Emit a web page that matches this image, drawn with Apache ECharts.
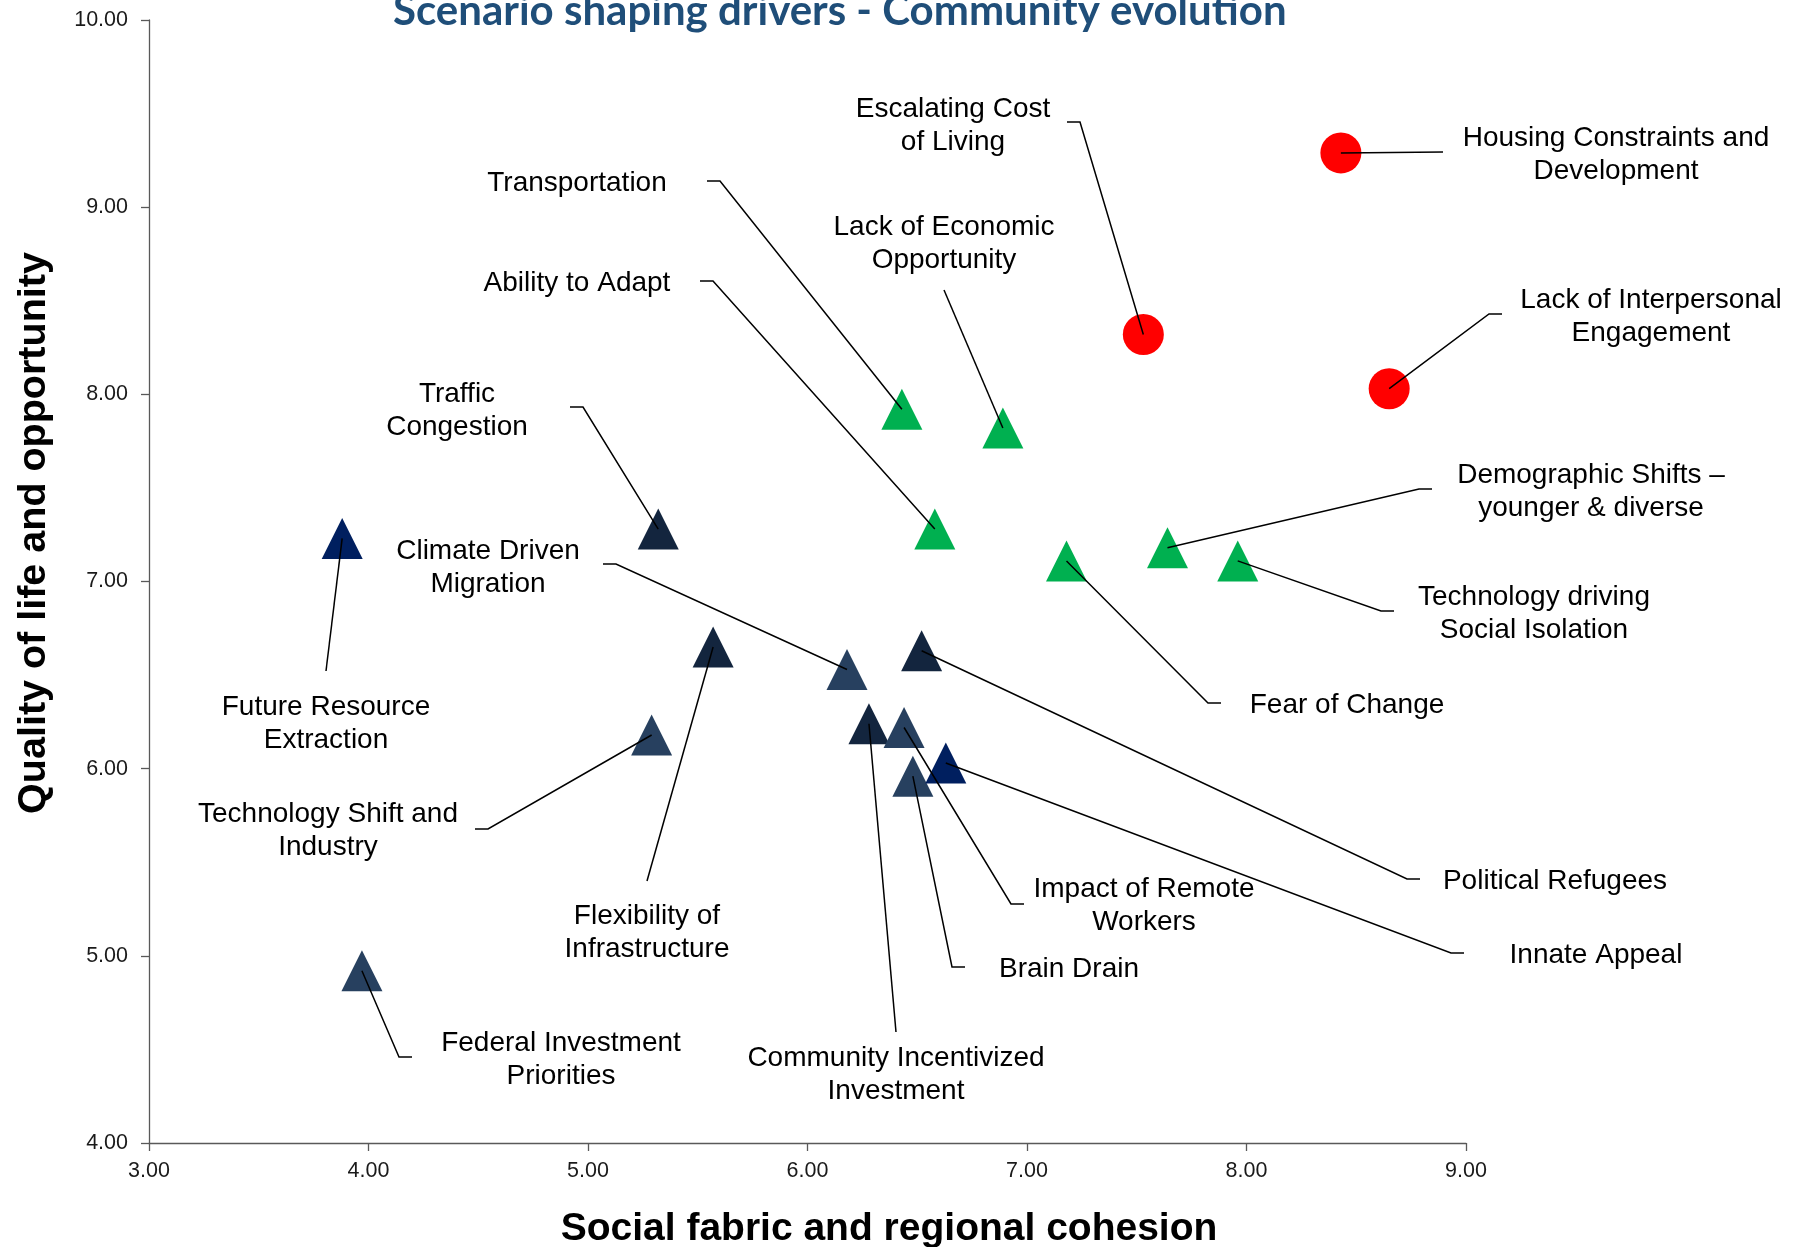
<!DOCTYPE html>
<html>
<head>
<meta charset="utf-8">
<script src="https://cdn.jsdelivr.net/npm/echarts@6/dist/echarts.min.js"></script>
<style>
html,body{margin:0;padding:0;background:#ffffff;}
#chart{width:1806px;height:1247px;}
</style>
</head>
<body>
<div id="chart"></div>
<script>
// ---------------- data ----------------
const drivers = [
  'Housing Constraints and\nDevelopment',
  'Escalating Cost\nof Living',
  'Lack of Interpersonal\nEngagement',
  'Transportation',
  'Lack of Economic\nOpportunity',
  'Ability to Adapt',
  'Fear of Change',
  'Demographic Shifts \u2013\nyounger & diverse',
  'Technology driving\nSocial Isolation',
  'Traffic\nCongestion',
  'Future Resource\nExtraction',
  'Flexibility of\nInfrastructure',
  'Climate Driven\nMigration',
  'Political Refugees',
  'Technology Shift and\nIndustry',
  'Community Incentivized\nInvestment',
  'Impact of Remote\nWorkers',
  'Innate Appeal',
  'Brain Drain',
  'Federal Investment\nPriorities'
];
const socialFabric = [8.43, 7.53, 8.65, 6.43, 6.89, 6.58, 7.18, 7.64, 7.96, 5.32,
                      3.88, 5.57, 6.18, 6.52, 5.29, 6.28, 6.44, 6.63, 6.48, 3.97];
const qualityOfLife = [9.29, 8.32, 8.03, 7.92, 7.82, 7.28, 7.11, 7.18, 7.11, 7.28,
                       7.23, 6.65, 6.53, 6.63, 6.18, 6.24, 6.22, 6.03, 5.96, 4.92];
const driverGroup = ['critical','critical','critical','green','green','green','green','green','green','dark',
                     'navy','dark','slate','dark','slate','dark','slate','navy','slate','slate'];
const xTickValues = [3, 4, 5, 6, 7, 8, 9];
const yTickValues = [4, 5, 6, 7, 8, 9, 10];

// ---------------- styles / layout (not data) ----------------
const groupOrder = ['critical', 'green', 'dark', 'slate', 'navy'];
const groupStyle = {
  critical: { symbol: 'circle',   color: '#FF0000' },
  green:    { symbol: 'triangle', color: '#00B050' },
  dark:     { symbol: 'triangle', color: '#13253E' },
  slate:    { symbol: 'triangle', color: '#27405F' },
  navy:     { symbol: 'triangle', color: '#001F5F' }
};
// per label: [textCenterX, textCenterY, leaderStartX, leaderStartY, elbowDx] (pixels)
const labelLayout = [
  [1616, 155, 1443, 152, 0],
  [953, 126, 1067, 122, 13],
  [1651, 317, 1502, 314, -13],
  [577, 183, 707, 181, 13],
  [944, 244, 944, 290, 0],
  [577, 283, 700, 281, 13],
  [1347, 705, 1221, 703, -13],
  [1591, 492, 1432, 489, -13],
  [1534, 614, 1394, 611, -13],
  [457, 411, 570, 407, 13],
  [326, 724, 326, 671, 0],
  [647, 933, 647, 881, 0],
  [488, 568, 603, 564, 13],
  [1555, 881, 1420, 879, -13],
  [328, 831, 475, 829, 13],
  [896, 1075, 896, 1032, 0],
  [1144, 906, 1024, 904, -13],
  [1596, 955, 1464, 953, -13],
  [1069, 969, 965, 967, -13],
  [561, 1060, 412, 1057, -13]
];

const FONT = "'Liberation Sans', Arial, Helvetica, sans-serif";

const chart = echarts.init(document.getElementById('chart'), null, { renderer: 'canvas' });

const scatterSeries = groupOrder.map(function (g) {
  const data = [];
  drivers.forEach(function (name, i) {
    if (driverGroup[i] === g) data.push({ value: [socialFabric[i], qualityOfLife[i]], name: name });
  });
  return {
    type: 'scatter',
    name: g,
    data: data,
    symbol: groupStyle[g].symbol,
    symbolSize: 41,
    itemStyle: { color: groupStyle[g].color, opacity: 1 },
    z: 2,
    silent: true
  };
});

const labelSeries = {
  type: 'custom',
  name: 'labels',
  clip: false,
  silent: true,
  z: 5,
  data: drivers.map(function (n, i) { return [socialFabric[i], qualityOfLife[i]]; }),
  encode: { x: 0, y: 1 },
  renderItem: function (params, api) {
    const i = params.dataIndex;
    const p = api.coord([api.value(0), api.value(1)]);
    const L = labelLayout[i];
    const pts = L[4] !== 0
      ? [[L[2], L[3]], [L[2] + L[4], L[3]], p]
      : [[L[2], L[3]], p];
    return {
      type: 'group',
      children: [
        {
          type: 'polyline',
          shape: { points: pts },
          style: { stroke: '#000000', lineWidth: 1.5, fill: null }
        },
        {
          type: 'text',
          style: {
            text: drivers[i],
            x: L[0], y: L[1],
            align: 'center', verticalAlign: 'middle',
            fontFamily: FONT, fontSize: 28, lineHeight: 33,
            fill: '#000000'
          }
        }
      ]
    };
  }
};

const option = {
  animation: false,
  backgroundColor: '#ffffff',
  title: {
    text: 'Scenario shaping drivers - Community evolution',
    left: 388,
    top: -15,
    textStyle: { fontFamily: "Lato, 'Open Sans', sans-serif", fontWeight: 'bold', fontSize: 42, color: '#1F4E79' }
  },
  grid: { left: 149, right: 340, top: 20, bottom: 104, containLabel: false, outerBoundsMode: 'none' },
  xAxis: {
    type: 'value', min: 3, max: 9, interval: 1,
    name: 'Social fabric and regional cohesion',
    nameLocation: 'middle', nameGap: 67,
    nameTextStyle: { fontFamily: FONT, fontWeight: 'bold', fontSize: 39, color: '#000', padding: [0, 0, 0, 163] },
    axisLine: { show: true, lineStyle: { color: '#595959', width: 1.3 } },
    axisTick: { show: true, length: 8, inside: false, lineStyle: { color: '#595959', width: 1.3 } },
    axisLabel: {
      fontFamily: FONT, fontSize: 21.5, color: '#1a1a1a', margin: 17,
      formatter: function (v) { return xTickValues.indexOf(v) >= 0 ? v.toFixed(2) : ''; }
    },
    splitLine: { show: false }
  },
  yAxis: {
    type: 'value', min: 4, max: 10, interval: 1,
    name: 'Quality of life and opportunity',
    nameLocation: 'middle', nameGap: 95,
    nameTextStyle: { fontFamily: FONT, fontWeight: 'bold', fontSize: 39.5, color: '#000', padding: [0, 0, 0, 97] },
    axisLine: { show: true, lineStyle: { color: '#595959', width: 1.3 } },
    axisTick: { show: true, length: 8, inside: false, lineStyle: { color: '#595959', width: 1.3 } },
    axisLabel: {
      fontFamily: FONT, fontSize: 21.5, color: '#1a1a1a', margin: 21,
      formatter: function (v) { return yTickValues.indexOf(v) >= 0 ? v.toFixed(2) : ''; }
    },
    splitLine: { show: false }
  },
  series: scatterSeries.concat([labelSeries])
};

chart.setOption(option);
</script>
</body>
</html>
